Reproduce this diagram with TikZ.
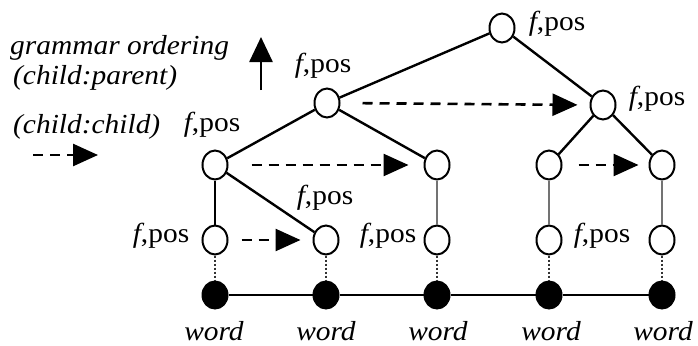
\documentclass[tikz,border=0pt]{standalone}
\usepackage{fontspec}
\setmainfont[FakeStretch=1.07]{Liberation Serif}
\usetikzlibrary{arrows.meta,shapes.geometric}
\begin{document}
\begin{tikzpicture}[x=1pt,y=-1pt,
  every node/.style={font=\fontsize{27.5}{32}\selectfont},
  tnode/.style={ellipse,draw,line width=2pt,minimum width=25pt,minimum height=29pt,inner sep=0pt,fill=white},
  wnode/.style={ellipse,fill=black,draw,line width=1pt,minimum width=26pt,minimum height=28pt,inner sep=0pt},
  edge/.style={line width=2.4pt},
  gedge/.style={line width=2.4pt,draw=black!55},
  dotedge/.style={line width=2pt,dotted,draw=black!80},
  dasharrow/.style={line width=2.6pt,dash pattern=on 10pt off 7pt,-{Triangle[length=25pt,width=22pt]}},
  lbl/.style={inner sep=0pt}
]
\useasboundingbox (0,0) rectangle (698,345);
% tree nodes
\node[tnode] (R) at (502,28) {};
\node[tnode] (M1) at (327,103) {};
\node[tnode] (M2) at (603,105) {};
\node[tnode] (A) at (215,165) {};
\node[tnode] (B) at (437,165) {};
\node[tnode] (C) at (549,165) {};
\node[tnode] (D) at (662,165) {};
\node[tnode] (L1) at (215,240) {};
\node[tnode] (L2) at (326,240) {};
\node[tnode] (L3) at (437,240) {};
\node[tnode] (L4) at (549,240) {};
\node[tnode] (L5) at (662,240) {};
\node[wnode] (W1) at (215,295) {};
\node[wnode] (W2) at (326,295) {};
\node[wnode] (W3) at (437,295) {};
\node[wnode] (W4) at (549,295) {};
\node[wnode] (W5) at (662,295) {};
% word labels
\node[lbl] (T1) at (214,331) {\itshape word};
\node[lbl] (T2) at (326,331) {\itshape word};
\node[lbl] (T3) at (438,331) {\itshape word};
\node[lbl] (T4) at (551,331) {\itshape word};
\node[lbl] (T5) at (663,331) {\itshape word};
% f,pos labels
\node[lbl] (PR) at (557,24) {\textit{f},pos};
\node[lbl] (PM2) at (657,99) {\textit{f},pos};
\node[lbl] (PM1) at (323,66) {\textit{f},pos};
\node[lbl] (PA) at (212,125) {\textit{f},pos};
\node[lbl] (PL2) at (325,198) {\textit{f},pos};
\node[lbl] (PL1) at (161,236) {\textit{f},pos};
\node[lbl] (PL3) at (388,236) {\textit{f},pos};
\node[lbl] (PL4) at (602,236) {\textit{f},pos};
% edges
\draw[edge] (R) -- (M1);
\draw[edge] (R) -- (M2);
\draw[edge] (M1) -- (A);
\draw[edge] (M1) -- (B);
\draw[edge] (M2) -- (C);
\draw[edge] (M2) -- (D);
\draw[line width=1.8pt] (A) -- (L1);
\draw[edge] (A) -- (L2);
\draw[gedge] (B) -- (L3);
\draw[gedge] (C) -- (L4);
\draw[gedge] (D) -- (L5);
\foreach \i in {1,...,5} {\draw[dotedge] (L\i) -- (W\i);}
\draw[line width=2.8pt] (W1) -- (W2) -- (W3) -- (W4) -- (W5);
% dashed arrows
\draw[dasharrow,shorten <=22pt,shorten >=12pt] (M1.east) -- (M2.west);
\draw[dasharrow,shorten <=23pt,shorten >=15pt] (A.east) -- (B.west);
\draw[dasharrow,shorten <=16pt,shorten >=10pt] (C.east) -- (D.west);
\draw[dasharrow,shorten <=13pt,shorten >=12pt] (L1.east) -- (L2.west);
% legend
\node[lbl,anchor=west] (G1) at (10,48) {\itshape grammar ordering};
\node[lbl,anchor=west] (G2) at (13,78) {\itshape (child:parent)};
\node[lbl,anchor=west] (G3) at (13,127) {\itshape (child:child)};
\coordinate (UA1) at (261,90);
\coordinate (UA2) at (261,37);
\draw[line width=2.6pt,-{Triangle[length=25pt,width=23pt]}] (UA1) -- (UA2);
\coordinate (DA1) at (33,155);
\coordinate (DA2) at (98,155);
\draw[dasharrow] (DA1) -- (DA2);
\end{tikzpicture}
\end{document}
